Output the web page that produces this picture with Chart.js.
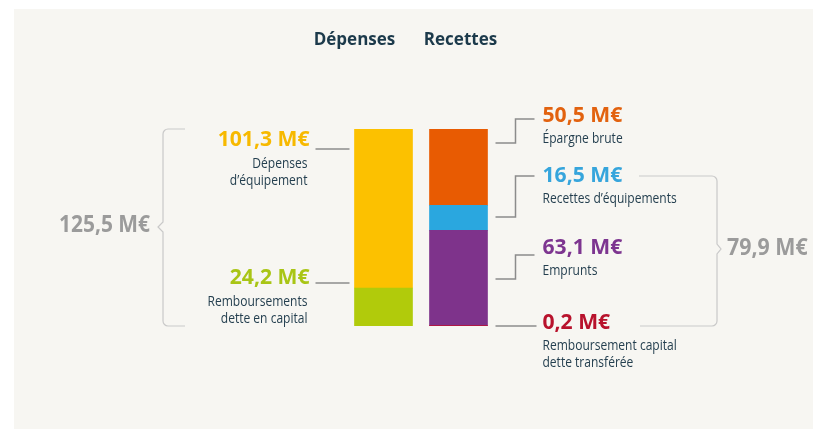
<!DOCTYPE html>
<html lang="fr">
<head>
<meta charset="utf-8">
<title>Dépenses / Recettes</title>
<script src="https://cdn.jsdelivr.net/npm/chart.js@4/dist/chart.umd.min.js"></script>
<style>
  html, body { margin: 0; padding: 0; background: #fff; }
  canvas { display: block; }
</style>
</head>
<body>
<canvas id="budgetChart" width="827" height="438"></canvas>
<script>
// Données
const colonnes = ['Dépenses', 'Recettes'];

// de bas en haut
const depensesLibelles = ['Remboursements\ndette en capital', 'Dépenses\nd’équipement'];
const depensesValeurs = [24.2, 101.3];
const depensesCouleurs = ['#b1cb0b', '#fcc100'];
const depensesTexte = ['#a9c515', '#f7b900'];

const recettesLibelles = ['Remboursement capital\ndette transférée', 'Emprunts', 'Recettes d’équipements', 'Épargne brute'];
const recettesValeurs = [0.2, 63.1, 16.5, 50.5];
const recettesCouleurs = ['#c0112e', '#7e338b', '#2aa7df', '#e85b02'];
const recettesTexte = ['#b8122c', '#7d3590', '#36a5dc', '#e2620f'];

const totaux = [125.5, 79.9];

// Mise en page des annotations
const FOND = '#f7f6f2';
const TEXTE = '#243f4f';
const GRIS_LIGNE = '#8c8c8c';
const GRIS_ACCOLADE = '#c9c9c9';
const GRIS_TOTAL = '#9b9b9b';
const POLICE = "'Open Sans', 'DejaVu Sans', sans-serif";
const POLICE_VALEUR = '700 22px ' + POLICE;
const POLICE_LIBELLE = '400 14.5px ' + POLICE;

const gaucheEtiquettes = [
  { i: 1, valY: 140, ligneY: 149 },
  { i: 0, valY: 278, ligneY: 283 }
];
const droiteEtiquettes = [
  { i: 3, valY: 116, basY: 143, hautY: 119 },
  { i: 2, valY: 176, basY: 217, hautY: 176 },
  { i: 1, valY: 248, basY: 279, hautY: 255 },
  { i: 0, valY: 323, basY: 326, hautY: 326 }
];

function formatME(v) {
  return v.toFixed(1).replace('.', ',') + ' M€';
}

// Jeux de données : une pile par colonne, chacune sur son axe
const datasets = [];
depensesValeurs.forEach((v, i) => {
  datasets.push({
    label: depensesLibelles[i],
    data: [v, null],
    backgroundColor: depensesCouleurs[i],
    yAxisID: 'y'
  });
});
recettesValeurs.forEach((v, i) => {
  datasets.push({
    label: recettesLibelles[i],
    data: [null, v],
    backgroundColor: recettesCouleurs[i],
    yAxisID: 'y2'
  });
});

const sumDep = depensesValeurs.reduce((a, b) => a + b, 0);
const sumRec = recettesValeurs.reduce((a, b) => a + b, 0);

// texte légèrement condensé (police étroite d'origine)
function texteEtroit(ctx, txt, x, y, sx) {
  ctx.save();
  ctx.translate(x, y);
  ctx.scale(sx, 1);
  ctx.fillText(txt, 0, 0);
  ctx.restore();
}

function texteMultiligne(ctx, txt, x, y, lh, sx) {
  txt.split('\n').forEach((l, k) => texteEtroit(ctx, l, x, y + k * lh, sx));
}

const fondPlugin = {
  id: 'fond',
  beforeDraw(chart) {
    const ctx = chart.ctx;
    ctx.save();
    ctx.fillStyle = '#ffffff';
    ctx.fillRect(0, 0, chart.width, chart.height);
    ctx.fillStyle = FOND;
    ctx.fillRect(14, 9, 799, 420);
    ctx.restore();
  }
};

const annotationsPlugin = {
  id: 'annotations',
  afterDatasetsDraw(chart) {
    const ctx = chart.ctx;
    const y1 = chart.scales.y;
    const barDep = chart.getDatasetMeta(0).data[0];
    const barRec = chart.getDatasetMeta(depensesValeurs.length).data[1];
    const depG = barDep.x - barDep.width / 2;
    const recD = barRec.x + barRec.width / 2;
    const haut = y1.getPixelForValue(sumDep);
    const bas = y1.getPixelForValue(0);

    ctx.save();
    ctx.textBaseline = 'middle';

    // En-têtes
    ctx.fillStyle = '#1c3a4b';
    ctx.font = '700 17px ' + POLICE;
    ctx.textAlign = 'center';
    ctx.fillText(colonnes[0], barDep.x - 29, 40);
    ctx.fillText(colonnes[1], barRec.x + 2, 40);

    // Côté gauche
    ctx.lineWidth = 1.5;
    gaucheEtiquettes.forEach(e => {
      ctx.strokeStyle = GRIS_LIGNE;
      ctx.beginPath();
      ctx.moveTo(depG - 39, e.ligneY);
      ctx.lineTo(depG - 5, e.ligneY);
      ctx.stroke();

      ctx.textAlign = 'right';
      ctx.fillStyle = depensesTexte[e.i];
      ctx.font = POLICE_VALEUR;
      texteEtroit(ctx, formatME(depensesValeurs[e.i]), depG - 45, e.valY, 0.96);
      ctx.fillStyle = TEXTE;
      ctx.font = POLICE_LIBELLE;
      texteMultiligne(ctx, depensesLibelles[e.i], depG - 47, e.valY + 24, 17, 0.83);
    });

    // Côté droit
    const cx = recD + 8;
    droiteEtiquettes.forEach(e => {
      ctx.strokeStyle = GRIS_LIGNE;
      ctx.beginPath();
      ctx.moveTo(cx, e.basY);
      if (e.basY !== e.hautY) {
        ctx.lineTo(cx + 20, e.basY);
        ctx.lineTo(cx + 20, e.hautY);
        ctx.lineTo(cx + 39, e.hautY);
      } else {
        ctx.lineTo(cx + 41, e.hautY);
      }
      ctx.stroke();

      ctx.textAlign = 'left';
      ctx.fillStyle = recettesTexte[e.i];
      ctx.font = POLICE_VALEUR;
      texteEtroit(ctx, formatME(recettesValeurs[e.i]), cx + 47, e.valY, 0.96);
      ctx.fillStyle = TEXTE;
      ctx.font = POLICE_LIBELLE;
      texteMultiligne(ctx, recettesLibelles[e.i], cx + 47, e.valY + 23, 17, 0.83);
    });

    // Accolade gauche
    ctx.strokeStyle = GRIS_ACCOLADE;
    ctx.lineWidth = 1.2;
    const ax = 163, am = 227;
    ctx.beginPath();
    ctx.moveTo(ax + 22, haut);
    ctx.lineTo(ax + 5, haut);
    ctx.arcTo(ax, haut, ax, haut + 5, 5);
    ctx.lineTo(ax, am - 5);
    ctx.lineTo(ax - 5, am);
    ctx.lineTo(ax, am + 5);
    ctx.lineTo(ax, bas - 5);
    ctx.arcTo(ax, bas, ax + 5, bas, 5);
    ctx.lineTo(ax + 22, bas);
    ctx.stroke();

    // Accolade droite (recettes d'équipements + emprunts + remboursement)
    const bx = 717, bm = 249, bh = 176, bb = 326;
    ctx.beginPath();
    ctx.moveTo(639, bh);
    ctx.lineTo(bx - 5, bh);
    ctx.arcTo(bx, bh, bx, bh + 5, 5);
    ctx.lineTo(bx, bm - 5);
    ctx.lineTo(bx + 4, bm);
    ctx.lineTo(bx, bm + 5);
    ctx.lineTo(bx, bb - 5);
    ctx.arcTo(bx, bb, bx - 5, bb, 5);
    ctx.lineTo(640, bb);
    ctx.stroke();

    // Totaux
    ctx.fillStyle = GRIS_TOTAL;
    ctx.font = '700 23px ' + POLICE;
    ctx.textAlign = 'right';
    texteEtroit(ctx, formatME(totaux[0]), 150, 225, 0.91);
    ctx.textAlign = 'left';
    texteEtroit(ctx, formatME(totaux[1]), 727, 248, 0.93);
    ctx.restore();
  }
};

new Chart(document.getElementById('budgetChart').getContext('2d'), {
  type: 'bar',
  data: { labels: colonnes, datasets: datasets },
  options: {
    responsive: false,
    animation: false,
    layout: { padding: { left: 346, right: 331, top: 129, bottom: 112 } },
    datasets: { bar: { barThickness: 58, borderWidth: 0 } },
    plugins: { legend: { display: false }, tooltip: { enabled: false } },
    scales: {
      x: { display: false, stacked: true, offset: true },
      y: { display: false, stacked: true, min: 0, max: sumDep },
      y2: { display: false, stacked: true, min: 0, max: sumRec }
    }
  },
  plugins: [fondPlugin, annotationsPlugin]
});
</script>
</body>
</html>
